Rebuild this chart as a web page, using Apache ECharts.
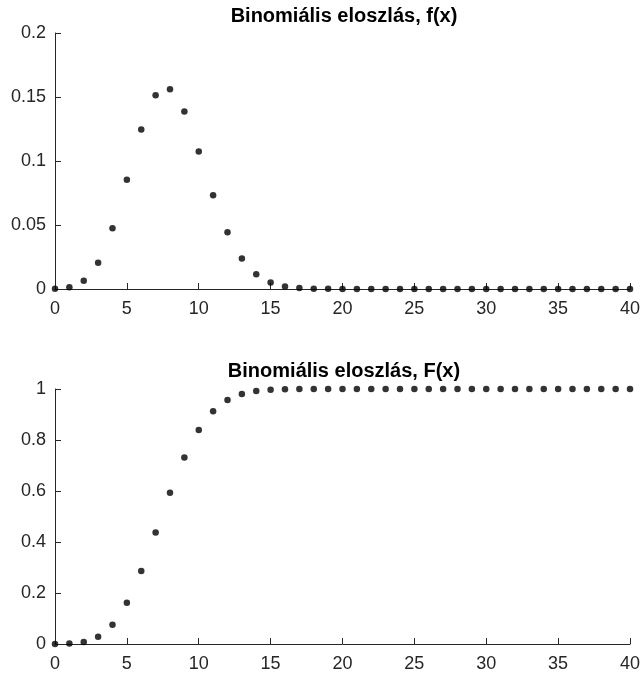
<!DOCTYPE html>
<html>
<head>
<meta charset="utf-8">
<script src="https://cdn.jsdelivr.net/npm/echarts@6/dist/echarts.min.js"></script>
<style>
  html, body { margin: 0; padding: 0; background: #fff; }
  #binom-chart { width: 643px; height: 675px; }
</style>
</head>
<body>
<div id="binom-chart"></div>
<script>
// x értékek
const xValues = [0, 1, 2, 3, 4, 5, 6, 7, 8, 9, 10, 11, 12, 13, 14, 15, 16, 17, 18, 19, 20,
  21, 22, 23, 24, 25, 26, 27, 28, 29, 30, 31, 32, 33, 34, 35, 36, 37, 38, 39, 40]

// f(x)
const pmfValues = [0.0001, 0.0013, 0.0065, 0.0205, 0.0475, 0.0854, 0.1246, 0.1513, 0.156, 0.1387,
  0.1075, 0.0733, 0.0443, 0.0238, 0.0115, 0.005, 0.002, 0.0007, 0.0002, 0.0001,
  0, 0, 0, 0, 0, 0, 0, 0, 0, 0, 0, 0, 0, 0, 0, 0, 0, 0, 0, 0, 0]

// F(x)
const cdfValues = [0.0001, 0.0015, 0.0079, 0.0285, 0.0759, 0.1613, 0.2859, 0.4371, 0.5931, 0.7318,
  0.8392, 0.9125, 0.9567, 0.9806, 0.9921, 0.997, 0.999, 0.9997, 0.9999, 1,
  1, 1, 1, 1, 1, 1, 1, 1, 1, 1, 1, 1, 1, 1, 1, 1, 1, 1, 1, 1, 1]

const titles = ['Binomiális eloszlás, f(x)', 'Binomiális eloszlás, F(x)']

const axisColor = '#262626'
const fontFamily = '"Liberation Sans", Arial, sans-serif'

function pairs(ys) {
  return xValues.map((x, i) => [x, ys[i]])
}

function xAxisCfg(idx) {
  return {
    type: 'value',
    gridIndex: idx,
    min: 0,
    max: 40,
    interval: 5,
    axisLine: { onZero: false, lineStyle: { color: axisColor, width: 1 } },
    axisTick: { inside: true, length: 6, lineStyle: { color: axisColor } },
    axisLabel: { color: axisColor, fontSize: 18, fontFamily: fontFamily, margin: 11 },
    splitLine: { show: false }
  }
}

function yAxisCfg(idx, max, interval) {
  return {
    type: 'value',
    gridIndex: idx,
    min: 0,
    max: max,
    interval: interval,
    axisLine: { show: true, lineStyle: { color: axisColor, width: 1 } },
    axisTick: { show: true, inside: true, length: 6, lineStyle: { color: axisColor } },
    axisLabel: { color: axisColor, fontSize: 18, fontFamily: fontFamily, margin: 9 },
    splitLine: { show: false }
  }
}

const chart = echarts.init(document.getElementById('binom-chart'))
const option = {
  animation: false,
  title: [
    {
      text: titles[0],
      left: 344,
      top: 6,
      textAlign: 'center',
      padding: 0,
      textStyle: { color: '#000', fontSize: 20, fontWeight: 'bold', fontFamily: fontFamily }
    },
    {
      text: titles[1],
      left: 344,
      top: 361,
      textAlign: 'center',
      padding: 0,
      textStyle: { color: '#000', fontSize: 20, fontWeight: 'bold', fontFamily: fontFamily }
    }
  ],
  grid: [
    { left: 55, right: 10, top: 33, height: 256 },
    { left: 55, right: 10, top: 389, height: 255 }
  ],
  xAxis: [xAxisCfg(0), xAxisCfg(1)],
  yAxis: [yAxisCfg(0, 0.2, 0.05), yAxisCfg(1, 1, 0.2)],
  series: [
    {
      type: 'scatter',
      xAxisIndex: 0,
      yAxisIndex: 0,
      symbol: 'circle',
      symbolSize: 6.5,
      itemStyle: { color: '#000' },
      clip: false,
      data: pairs(pmfValues)
    },
    {
      type: 'scatter',
      xAxisIndex: 1,
      yAxisIndex: 1,
      symbol: 'circle',
      symbolSize: 6.5,
      itemStyle: { color: '#000' },
      clip: false,
      data: pairs(cdfValues)
    }
  ]
}
chart.setOption(option)
window.addEventListener('resize', () => chart.resize())
</script>
</body>
</html>
